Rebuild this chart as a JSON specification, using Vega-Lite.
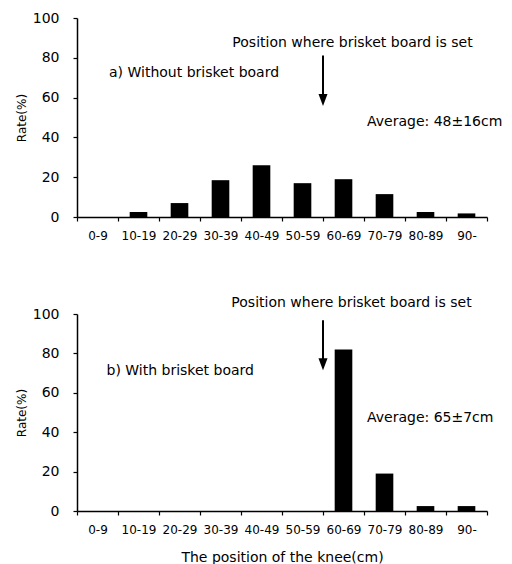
{
  "$schema": "https://vega.github.io/schema/vega-lite/v6.json",
  "background": "white",
  "padding": {"left": 15, "top": 11, "right": 5, "bottom": 2},
  "config": {
    "font": "DejaVu Sans",
    "view": {"stroke": null},
    "axis": {
      "grid": false,
      "domainColor": "black",
      "domainWidth": 1.5,
      "tickColor": "black",
      "tickWidth": 1.2,
      "labelColor": "black",
      "titleColor": "black",
      "titleFontWeight": "normal"
    },
    "text": {"color": "black", "fontSize": 14, "baseline": "middle"}
  },
  "datasets": {
    "without": [
      {"range": "0-9", "rate": 0},
      {"range": "10-19", "rate": 2.5},
      {"range": "20-29", "rate": 7},
      {"range": "30-39", "rate": 18.5},
      {"range": "40-49", "rate": 26},
      {"range": "50-59", "rate": 17},
      {"range": "60-69", "rate": 19},
      {"range": "70-79", "rate": 11.5},
      {"range": "80-89", "rate": 2.5},
      {"range": "90-", "rate": 1.8}
    ],
    "with": [
      {"range": "0-9", "rate": 0},
      {"range": "10-19", "rate": 0},
      {"range": "20-29", "rate": 0},
      {"range": "30-39", "rate": 0},
      {"range": "40-49", "rate": 0},
      {"range": "50-59", "rate": 0},
      {"range": "60-69", "rate": 82},
      {"range": "70-79", "rate": 19},
      {"range": "80-89", "rate": 2.5},
      {"range": "90-", "rate": 2.5}
    ]
  },
  "vconcat": [
    {
      "width": 410,
      "height": 199,
      "encoding": {
        "x": {
          "field": "range", "type": "nominal", "sort": null,
          "scale": {"domain": ["0-9","10-19","20-29","30-39","40-49","50-59","60-69","70-79","80-89","90-"], "paddingInner": 0, "paddingOuter": 0},
          "axis": {"title": null, "labelAngle": 0, "labelFontSize": 12, "labelPadding": 9, "tickBand": "extent", "tickSize": 4, "labelOverlap": false}
        },
        "y": {
          "field": "rate", "type": "quantitative",
          "scale": {"domain": [0, 100], "nice": false},
          "axis": {"title": "Rate(%)", "values": [0, 20, 40, 60, 80, 100], "labelFontSize": 14, "labelPadding": 14, "titleFontSize": 12, "titlePadding": 4, "tickSize": 4, "labelOverlap": false}
        }
      },
      "layer": [
        {
          "data": {"name": "without"},
          "mark": {"type": "bar", "color": "black", "width": {"band": 0.43}}
        },
        {
          "data": {"values": [{"range": "60-69", "rate": 87.3, "text": "Position where brisket board is set"}]},
          "mark": {"type": "text", "dx": 9},
          "encoding": {"text": {"field": "text"}}
        },
        {
          "data": {"values": [{"range": "0-9", "rate": 72.5, "text": "a) Without brisket board"}]},
          "mark": {"type": "text", "align": "left", "dx": 11.5},
          "encoding": {"text": {"field": "text"}}
        },
        {
          "data": {"values": [{"range": "70-79", "rate": 47.5, "text": "Average: 48±16cm"}]},
          "mark": {"type": "text", "align": "left", "dx": -17.5},
          "encoding": {"text": {"field": "text"}}
        },
        {
          "data": {"values": [{"range": "60-69", "rate": 81.2, "rate2": 60}]},
          "mark": {"type": "rule", "color": "black", "strokeWidth": 2},
          "encoding": {"x": {"field": "range", "type": "nominal", "bandPosition": 0}, "y2": {"field": "rate2"}}
        },
        {
          "data": {"values": [{"range": "60-69", "rate": 58.8}]},
          "mark": {"type": "point", "shape": "M-0.75,-1L0.75,-1L0,1Z", "size": 144, "filled": true, "color": "black", "opacity": 1},
          "encoding": {"x": {"field": "range", "type": "nominal", "bandPosition": 0}}
        }
      ]
    },
    {
      "width": 410,
      "height": 197,
      "encoding": {
        "x": {
          "field": "range", "type": "nominal", "sort": null,
          "scale": {"domain": ["0-9","10-19","20-29","30-39","40-49","50-59","60-69","70-79","80-89","90-"], "paddingInner": 0, "paddingOuter": 0},
          "axis": {"title": "The position of the knee(cm)", "labelAngle": 0, "labelFontSize": 12, "labelPadding": 9, "tickBand": "extent", "tickSize": 4, "labelOverlap": false, "titleFontSize": 14, "titlePadding": 15}
        },
        "y": {
          "field": "rate", "type": "quantitative",
          "scale": {"domain": [0, 100], "nice": false},
          "axis": {"title": "Rate(%)", "values": [0, 20, 40, 60, 80, 100], "labelFontSize": 14, "labelPadding": 14, "titleFontSize": 12, "titlePadding": 4, "tickSize": 4, "labelOverlap": false}
        }
      },
      "layer": [
        {
          "data": {"name": "with"},
          "mark": {"type": "bar", "color": "black", "width": {"band": 0.43}}
        },
        {
          "data": {"values": [{"range": "60-69", "rate": 105.5, "text": "Position where brisket board is set"}]},
          "mark": {"type": "text", "dx": 8},
          "encoding": {"text": {"field": "text"}}
        },
        {
          "data": {"values": [{"range": "0-9", "rate": 71, "text": "b) With brisket board"}]},
          "mark": {"type": "text", "align": "left", "dx": 9},
          "encoding": {"text": {"field": "text"}}
        },
        {
          "data": {"values": [{"range": "70-79", "rate": 47, "text": "Average: 65±7cm"}]},
          "mark": {"type": "text", "align": "left", "dx": -17.5},
          "encoding": {"text": {"field": "text"}}
        },
        {
          "data": {"values": [{"range": "60-69", "rate": 96.8, "rate2": 76}]},
          "mark": {"type": "rule", "color": "black", "strokeWidth": 2},
          "encoding": {"x": {"field": "range", "type": "nominal", "bandPosition": 0}, "y2": {"field": "rate2"}}
        },
        {
          "data": {"values": [{"range": "60-69", "rate": 74.5}]},
          "mark": {"type": "point", "shape": "M-0.75,-1L0.75,-1L0,1Z", "size": 144, "filled": true, "color": "black", "opacity": 1},
          "encoding": {"x": {"field": "range", "type": "nominal", "bandPosition": 0}}
        }
      ]
    }
  ],
  "spacing": 97,
  "bounds": "flush"
}
